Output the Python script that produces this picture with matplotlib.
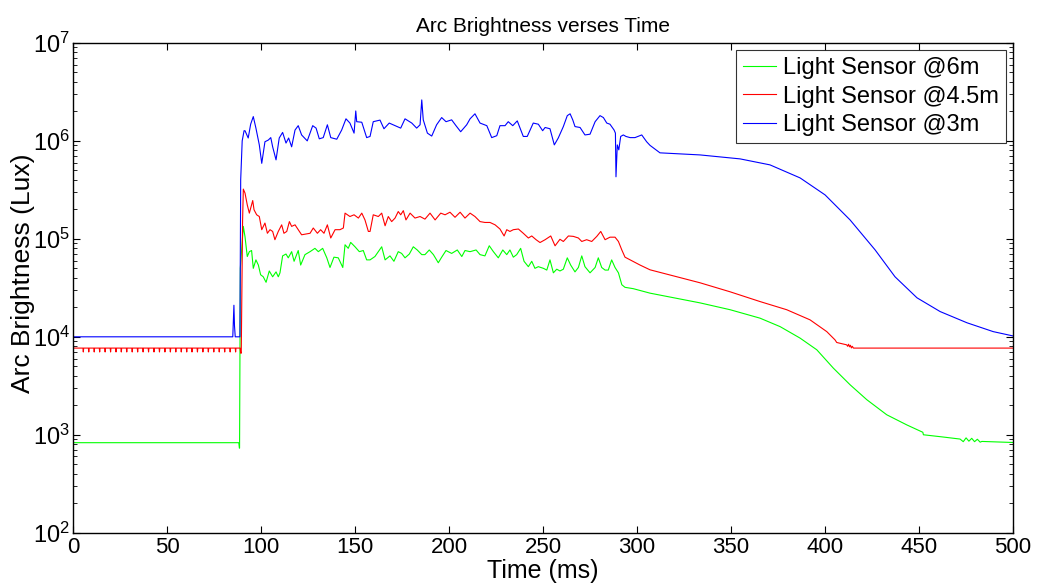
import numpy as np
import matplotlib
matplotlib.use("Agg")
import matplotlib.pyplot as plt
from matplotlib.ticker import LogLocator, MultipleLocator

plt.rcParams['font.family'] = ['Liberation Sans', 'DejaVu Sans']

# ---- data (time in ms, brightness in lux) ----
# blue: light sensor @3m
t_blue = [0, 85.0, 85.4, 85.6, 85.9, 86.3, 88.8, 89.2, 90.0, 91.0, 91.5, 93.2, 94.5, 95.9, 97.3,
          99.1, 100.4, 102.1, 103.9, 105.2, 106.2, 108.0, 109.7, 111.5, 113.3, 114.7, 116.3,
          118.1, 119.8, 121.6, 124.6, 127.5, 129.3, 131.0, 133.1, 135.3, 137.1, 140.3, 142.9,
          145.2, 147.3, 149.5, 150.4, 150.9, 153.6, 156.2, 158.0, 159.7, 163.3, 165.4, 168.2,
          171.3, 174.3, 176.6, 180.2, 182.8, 184.6, 185.5, 186.3, 188.5, 190.8, 193.4, 196.1,
          198.4, 201.4, 203.7, 206.2, 209.4, 211.2, 213.8, 216.5, 220.1, 222.7, 225.4, 227.1,
          229.8, 231.5, 233.9, 236.3, 239.5, 241.6, 244.8, 247.5, 249.8, 251.1, 253.7, 256.0,
          258.1, 260.8, 262.9, 264.4, 265.8, 267.0, 269.7, 272.3, 275.0, 277.7, 280.3, 282.1,
          283.9, 285.6, 287.8, 288.5, 288.8, 289.5, 290.3, 291.3, 292.7, 294.1, 296.3, 298.9,
          302.5, 305.1, 306.9, 312.2, 333.5, 354.8, 370.7, 386.7, 400.0, 413.3, 426.6, 437.2,
          448.9, 461.2, 475.5, 489.4, 500]
v_blue = [1.0e4, 1.0e4, 1.6e4, 2.1e4, 1.3e4, 1.0e4, 1.0e4, 4.0e5, 1.0e6, 1.27e6, 1.27e6, 1.07e6,
          1.48e6, 1.77e6, 1.35e6, 0.91e6, 0.59e6, 0.98e6, 1.02e6, 1.08e6, 0.87e6, 0.64e6,
          1.07e6, 1.22e6, 0.95e6, 1.07e6, 0.87e6, 1.29e6, 1.43e6, 1.15e6, 1.00e6, 1.43e6,
          1.35e6, 1.05e6, 1.08e6, 1.46e6, 1.08e6, 1.04e6, 1.29e6, 1.68e6, 1.52e6, 1.20e6,
          2.02e6, 1.57e6, 1.55e6, 1.08e6, 1.11e6, 1.57e6, 1.63e6, 1.33e6, 1.52e6, 1.43e6,
          1.35e6, 1.68e6, 1.52e6, 1.35e6, 1.46e6, 2.62e6, 1.64e6, 1.20e6, 1.12e6, 1.46e6,
          1.73e6, 1.57e6, 1.64e6, 1.43e6, 1.24e6, 1.46e6, 1.68e6, 1.89e6, 1.52e6, 1.43e6,
          1.08e6, 1.13e6, 1.43e6, 1.43e6, 1.57e6, 1.43e6, 1.60e6, 1.11e6, 1.11e6, 1.52e6,
          1.48e6, 1.27e6, 1.37e6, 1.33e6, 0.91e6, 1.07e6, 1.40e6, 1.81e6, 1.89e6, 1.64e6,
          1.40e6, 1.37e6, 1.15e6, 1.17e6, 1.57e6, 1.81e6, 1.73e6, 1.52e6, 1.48e6, 1.29e6,
          1.20e6, 0.43e6, 0.91e6, 0.81e6, 1.11e6, 1.15e6, 1.11e6, 1.08e6, 1.08e6, 1.15e6,
          0.98e6, 0.90e6, 7.55e5, 7.19e5, 6.55e5, 5.69e5, 4.19e5, 2.81e5, 1.56e5, 7.72e4,
          4.10e4, 2.50e4, 1.81e4, 1.39e4, 1.13e4, 1.02e4]

# red: light sensor @4.5m
red_base = 7.67e3
red_dips = [5.5, 8.4, 11.3, 14.2, 17.1, 20.0, 22.9, 25.7, 28.6, 31.5, 34.4, 37.3, 40.2, 43.1,
            46.0, 48.9, 51.8, 54.7, 57.6, 60.5, 63.3, 66.2, 69.1, 72.0, 74.9, 77.8, 80.7,
            83.6, 86.5]
red_dip_val = 7.0e3
t_red = [88.9, 89.2, 89.5, 90.2, 90.6, 91.5, 92.7, 93.8, 94.5, 95.6, 96.3, 97.7, 99.1, 100.4,
         102.1, 103.4, 104.8, 106.2, 107.4, 109.2, 111.0, 112.2, 113.7, 115.1, 116.3, 118.1,
         119.8, 121.6, 123.9, 126.1, 127.8, 130.0, 131.7, 133.5, 135.3, 137.1, 139.4, 142.0,
         143.8, 144.7, 147.3, 149.5, 151.8, 153.6, 155.3, 157.1, 158.0, 159.7, 162.4, 164.2,
         166.0, 167.7, 169.5, 171.3, 173.0, 174.3, 175.7, 177.1, 179.3, 181.9, 184.6, 187.2,
         189.9, 192.6, 195.6, 197.9, 200.5, 203.2, 205.9, 208.5, 211.2, 213.8, 216.5, 219.1,
         221.8, 224.5, 227.1, 229.3, 230.7, 232.4, 234.2, 236.9, 239.5, 242.2, 244.0, 246.3,
         248.4, 251.1, 254.1, 256.4, 259.0, 260.8, 263.5, 266.1, 268.8, 270.6, 273.2, 275.9,
         278.6, 280.7, 283.0, 285.6, 288.3, 290.1, 291.9, 293.6, 296.3, 301.6, 306.9, 333.5,
         349.5, 365.4, 379.6, 392.0, 400.9, 405.3, 406.2, 411.5, 412.0, 412.5, 413.0, 413.5,
         414.0, 414.5, 415.1, 500]
v_red = [7.67e3, 6.8e3, 6.8e3, 1.5e5, 3.22e5, 2.93e5, 2.22e5, 1.83e5, 2.06e5, 2.46e5, 1.98e5,
         1.76e5, 1.69e5, 1.24e5, 1.45e5, 1.14e5, 1.24e5, 1.19e5, 0.98e5, 1.19e5, 1.39e5,
         1.14e5, 1.19e5, 1.50e5, 1.34e5, 1.39e5, 1.24e5, 1.10e5, 1.12e5, 1.14e5, 1.29e5,
         1.14e5, 1.24e5, 1.14e5, 1.39e5, 1.02e5, 1.24e5, 1.24e5, 1.29e5, 1.83e5, 1.69e5,
         1.76e5, 1.63e5, 1.83e5, 1.56e5, 1.19e5, 1.19e5, 1.76e5, 1.69e5, 1.83e5, 1.36e5,
         1.69e5, 1.50e5, 1.63e5, 1.90e5, 1.76e5, 1.94e5, 1.56e5, 1.83e5, 1.63e5, 1.69e5,
         1.59e5, 1.83e5, 1.56e5, 1.83e5, 1.76e5, 1.87e5, 1.66e5, 1.87e5, 1.63e5, 1.83e5,
         1.69e5, 1.50e5, 1.47e5, 1.47e5, 1.39e5, 1.26e5, 1.07e5, 1.24e5, 1.19e5, 1.24e5,
         1.26e5, 1.14e5, 1.02e5, 1.07e5, 0.98e5, 0.917e5, 0.98e5, 1.07e5, 0.849e5, 0.99e5,
         0.94e5, 1.07e5, 1.06e5, 1.02e5, 0.94e5, 0.98e5, 0.94e5, 1.06e5, 1.19e5, 0.98e5,
         1.04e5, 1.04e5, 0.94e5, 0.77e5, 0.65e5, 0.61e5, 0.54e5, 4.83e4, 3.56e4, 2.88e4,
         2.29e4, 1.89e4, 1.49e4, 1.13e4, 9.3e3, 8.75e3, 8.28e3, 8.0e3, 8.4e3, 7.9e3, 8.2e3,
         7.7e3, 8.0e3, 7.67e3, 7.67e3]

# green: light sensor @6m
t_green = [0, 88.2, 88.5, 88.6, 89.0, 90.6, 91.5, 92.7, 93.8, 95.0, 95.9, 97.3, 98.6, 99.8,
           101.2, 102.7, 104.4, 106.2, 108.0, 109.2, 110.1, 111.5, 113.3, 114.5, 116.3, 117.6,
           119.8, 121.1, 123.4, 126.1, 128.7, 130.5, 132.8, 135.0, 136.7, 138.8, 141.1, 143.5,
           144.7, 146.4, 147.7, 150.0, 152.3, 154.4, 156.2, 158.0, 160.6, 162.4, 164.2, 166.0,
           168.6, 170.7, 173.0, 174.8, 176.6, 178.9, 181.0, 183.1, 185.5, 187.2, 189.5, 191.7,
           194.3, 196.1, 198.4, 201.4, 204.4, 206.8, 208.5, 211.2, 214.4, 216.5, 219.1, 221.4,
           223.6, 226.2, 228.6, 230.7, 232.4, 234.2, 236.0, 238.1, 239.9, 242.2, 244.0, 245.7,
           247.5, 250.2, 252.0, 253.7, 255.5, 257.3, 259.0, 260.8, 262.9, 264.7, 267.0, 268.8,
           270.6, 272.3, 275.0, 277.7, 279.4, 281.2, 283.0, 284.7, 286.5, 288.3, 290.1, 291.9,
           293.6, 298.0, 306.9, 333.5, 349.5, 365.4, 376.1, 386.7, 395.6, 404.4, 413.3, 422.2,
           432.8, 443.5, 452.0, 452.3, 462.9, 471.8, 473.5, 475.0, 476.5, 478.0, 479.5, 481.0,
           482.5, 483.4, 500]
v_green = [830, 830, 730, 730, 5.0e4, 1.34e5, 1.05e5, 0.66e5, 0.74e5, 0.76e5, 0.50e5, 0.61e5,
           0.54e5, 0.43e5, 0.41e5, 0.36e5, 0.47e5, 0.41e5, 0.46e5, 0.41e5, 0.45e5, 0.67e5,
           0.70e5, 0.64e5, 0.74e5, 0.59e5, 0.76e5, 0.54e5, 0.69e5, 0.74e5, 0.80e5, 0.74e5,
           0.80e5, 0.64e5, 0.51e5, 0.65e5, 0.64e5, 0.51e5, 0.87e5, 0.80e5, 0.92e5, 0.83e5,
           0.74e5, 0.76e5, 0.61e5, 0.61e5, 0.66e5, 0.74e5, 0.83e5, 0.61e5, 0.67e5, 0.59e5,
           0.74e5, 0.71e5, 0.64e5, 0.70e5, 0.83e5, 0.77e5, 0.69e5, 0.69e5, 0.77e5, 0.69e5,
           0.57e5, 0.65e5, 0.76e5, 0.71e5, 0.77e5, 0.66e5, 0.76e5, 0.74e5, 0.77e5, 0.69e5,
           0.67e5, 0.85e5, 0.74e5, 0.64e5, 0.77e5, 0.69e5, 0.77e5, 0.65e5, 0.69e5, 0.80e5,
           0.59e5, 0.52e5, 0.59e5, 0.50e5, 0.52e5, 0.50e5, 0.48e5, 0.61e5, 0.45e5, 0.49e5,
           0.47e5, 0.49e5, 0.64e5, 0.54e5, 0.46e5, 0.51e5, 0.67e5, 0.52e5, 0.45e5, 0.51e5,
           0.64e5, 0.51e5, 0.48e5, 0.48e5, 0.61e5, 0.51e5, 0.45e5, 0.34e5, 0.32e5, 0.31e5,
           2.79e4, 2.22e4, 1.89e4, 1.55e4, 1.27e4, 9.7e3, 7.37e3, 4.79e3, 3.24e3, 2.28e3,
           1.60e3, 1.26e3, 1.06e3, 1.00e3, 948, 904, 850, 930, 860, 920, 850, 900, 840, 855, 834]

series_labels = ['Light Sensor @6m', 'Light Sensor @4.5m', 'Light Sensor @3m']
series_colors = ['#00ff00', '#ff0000', '#0000ff']

# red pre-flash trace with its small periodic dips
t_red_pre = [0]
v_red_pre = [red_base]
for d in red_dips:
    t_red_pre += [d - 0.2, d, d + 0.2]
    v_red_pre += [red_base, red_dip_val, red_base]
t_red_all = t_red_pre + t_red
v_red_all = v_red_pre + v_red

fig = plt.figure(figsize=(10.38, 5.88), dpi=100)
ax = fig.add_axes([0.0703, 0.094, 0.9057, 0.833])

ax.plot(t_green, v_green, color=series_colors[0], lw=0.8, label=series_labels[0])
ax.plot(t_red_all, v_red_all, color=series_colors[1], lw=0.8, label=series_labels[1])
ax.plot(t_blue, v_blue, color=series_colors[2], lw=0.8, label=series_labels[2])

ax.set_yscale('log')
ax.set_xlim(0, 500)
ax.set_ylim(1e2, 1e7)
ax.xaxis.set_major_locator(MultipleLocator(50))
ax.yaxis.set_major_locator(LogLocator(base=10, numticks=10))
ax.yaxis.set_minor_locator(LogLocator(base=10, subs=np.arange(2, 10), numticks=10))
ax.tick_params(which='both', direction='in', top=True, right=True)
ax.tick_params(axis='x', labelsize=16, pad=3)
ax.tick_params(axis='y', labelsize=17, pad=2)
ax.tick_params(which='major', length=5)
ax.tick_params(which='minor', length=3)
for s in ax.spines.values():
    s.set_linewidth(1.0)

ax.set_title('Arc Brightness verses Time', fontsize=15, pad=8)
ax.set_xlabel('Time (ms)', fontsize=18, labelpad=1)
ax.set_ylabel('Arc Brightness (Lux)', fontsize=19, labelpad=0)
ax.yaxis.set_label_coords(-0.040, 0.53)

leg = ax.legend(loc='upper right', fontsize=17, frameon=True, fancybox=False,
                handlelength=1.4, handletextpad=0.3, borderpad=0.3, labelspacing=0.28,
                borderaxespad=0.3)
leg.get_frame().set_edgecolor('black')
leg.get_frame().set_linewidth(0.8)

fig.savefig('out.png', dpi=100)
